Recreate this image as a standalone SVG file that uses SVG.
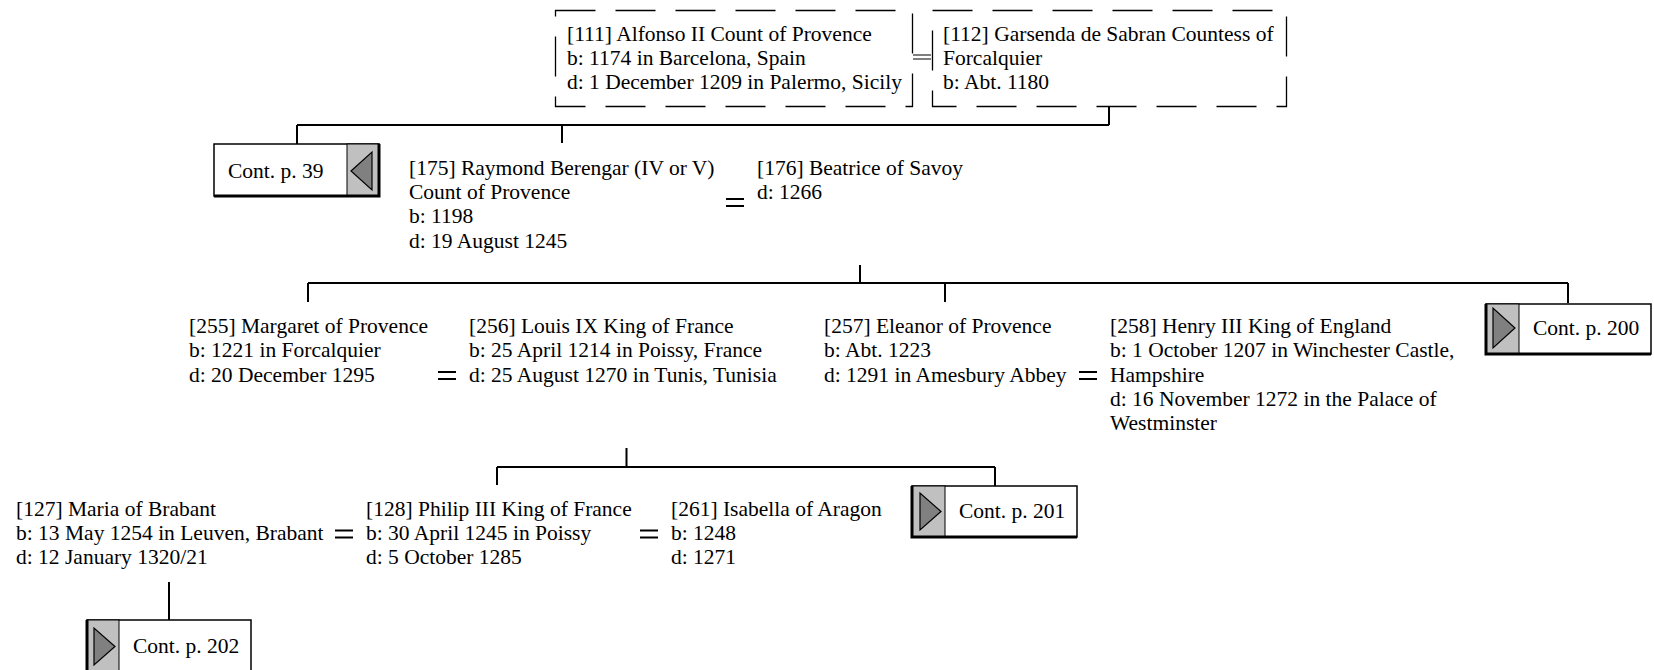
<svg xmlns="http://www.w3.org/2000/svg" width="1654" height="670" viewBox="0 0 1654 670">
<style>
.t{font-family:"Liberation Serif","Times New Roman",serif;font-size:21.5px;fill:#000}
.ln{stroke:#000;stroke-width:2;fill:none}
.eq{stroke:#000;stroke-width:2;fill:none}
.dash{fill:none;stroke:#000;stroke-width:1.3;stroke-dasharray:40 20}
.frame{fill:#fff;stroke:#000;stroke-width:1.5}
.gray{fill:#c0c0c0;stroke:#000;stroke-width:1}
.tri{fill:#808080;stroke:#000;stroke-width:1.2}
.thick{stroke:#000;stroke-width:3;fill:none}
</style>
<rect width="1654" height="670" fill="#fff"/>
<g id="connectors">
<path class="ln" d="M1109,106 V125 M297,125 H1109 M297,125 V144 M562,125 V143"/>
<path class="ln" d="M860,265 V283 M308,283 H1568 M308,283 V302 M945,283 V302 M1568,283 V303"/>
<path class="ln" d="M626.5,448 V467 M497,467 H995 M497,467 V485 M995,467 V486"/>
<path class="ln" d="M169,582 V620"/>
<path d="M913,55 H931 M913,59 H931" stroke="#000" stroke-width="1.2" fill="none"/>
<path class="eq" d="M726,199 H744 M726,206 H744"/>
<path class="eq" d="M438,372 H456 M438,379 H456"/>
<path class="eq" d="M1079,372 H1097 M1079,379 H1097"/>
<path class="eq" d="M335,530.5 H353 M335,537.5 H353"/>
<path class="eq" d="M640,530.5 H658 M640,537.5 H658"/>
</g>
<g id="p111">
<rect class="dash" x="555.5" y="10.5" width="357" height="96"/>
<text class="t" x="567" y="41">[111] Alfonso II Count of Provence<tspan x="567" y="65">b: 1174 in Barcelona, Spain</tspan><tspan x="567" y="89">d: 1 December 1209 in Palermo, Sicily</tspan></text>
</g>
<g id="p112">
<rect class="dash" x="932.5" y="10.5" width="354" height="96"/>
<text class="t" x="943" y="41">[112] Garsenda de Sabran Countess of<tspan x="943" y="65">Forcalquier</tspan><tspan x="943" y="89">b: Abt. 1180</tspan></text>
</g>
<g id="cont39">
<rect class="frame" x="214" y="144" width="165" height="52"/>
<rect class="gray" x="347" y="144" width="32" height="52"/>
<polygon class="tri" points="351,171 372,152 372,190"/>
<path class="thick" d="M379,144 V196 H214"/>
<text class="t" x="228" y="178">Cont. p. 39</text>
</g>
<g id="p175">
<text class="t" x="409" y="175">[175] Raymond Berengar (IV or V)<tspan x="409" y="199">Count of Provence</tspan><tspan x="409" y="223">b: 1198</tspan><tspan x="409" y="247.5">d: 19 August 1245</tspan></text>
</g>
<g id="p176">
<text class="t" x="757" y="175">[176] Beatrice of Savoy<tspan x="757" y="199">d: 1266</tspan></text>
</g>
<g id="p255">
<text class="t" x="189" y="333">[255] Margaret of Provence<tspan x="189" y="357">b: 1221 in Forcalquier</tspan><tspan x="189" y="381.5">d: 20 December 1295</tspan></text>
</g>
<g id="p256">
<text class="t" x="469" y="333">[256] Louis IX King of France<tspan x="469" y="357">b: 25 April 1214 in Poissy, France</tspan><tspan x="469" y="381.5">d: 25 August 1270 in Tunis, Tunisia</tspan></text>
</g>
<g id="p257">
<text class="t" x="824" y="333">[257] Eleanor of Provence<tspan x="824" y="357">b: Abt. 1223</tspan><tspan x="824" y="381.5">d: 1291 in Amesbury Abbey</tspan></text>
</g>
<g id="p258">
<text class="t" x="1110" y="333">[258] Henry III King of England<tspan x="1110" y="357">b: 1 October 1207 in Winchester Castle,</tspan><tspan x="1110" y="381.5">Hampshire</tspan><tspan x="1110" y="406">d: 16 November 1272 in the Palace of</tspan><tspan x="1110" y="430">Westminster</tspan></text>
</g>
<g id="cont200">
<rect class="frame" x="1486" y="304" width="165" height="50"/>
<rect class="gray" x="1486" y="304" width="33" height="50"/>
<polygon class="tri" points="1493,308 1493,348 1515,328"/>
<path class="thick" d="M1486,304 V354 H1651"/>
<text class="t" x="1533" y="335">Cont. p. 200</text>
</g>
<g id="p127">
<text class="t" x="16" y="516">[127] Maria of Brabant<tspan x="16" y="540">b: 13 May 1254 in Leuven, Brabant</tspan><tspan x="16" y="564">d: 12 January 1320/21</tspan></text>
</g>
<g id="p128">
<text class="t" x="366" y="516">[128] Philip III King of France<tspan x="366" y="540">b: 30 April 1245 in Poissy</tspan><tspan x="366" y="564">d: 5 October 1285</tspan></text>
</g>
<g id="p261">
<text class="t" x="671" y="516">[261] Isabella of Aragon<tspan x="671" y="540">b: 1248</tspan><tspan x="671" y="564">d: 1271</tspan></text>
</g>
<g id="cont201">
<rect class="frame" x="912" y="486" width="165" height="51"/>
<rect class="gray" x="912" y="486" width="33" height="51"/>
<polygon class="tri" points="920,493 920,530 941,511.5"/>
<path class="thick" d="M912,486 V537 H1077"/>
<text class="t" x="959" y="518">Cont. p. 201</text>
</g>
<g id="cont202">
<rect class="frame" x="87" y="620" width="164" height="52"/>
<rect class="gray" x="87" y="620" width="32" height="52"/>
<polygon class="tri" points="94,628 94,665 115,646.5"/>
<path class="thick" d="M87,620 V672"/>
<text class="t" x="133" y="653">Cont. p. 202</text>
</g>
</svg>
